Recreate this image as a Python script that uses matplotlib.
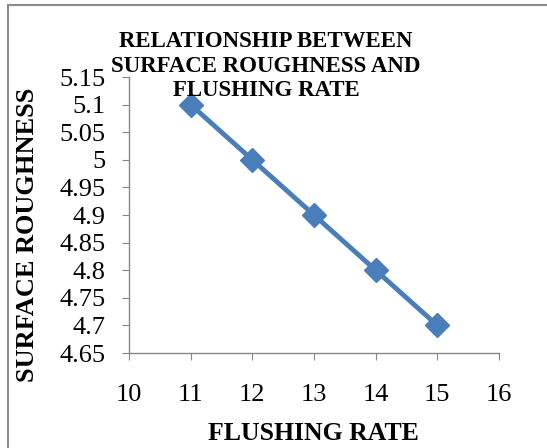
import matplotlib.pyplot as plt
from matplotlib.patches import Rectangle

flushing_rate = [11, 12, 13, 14, 15]
roughness = [5.1, 5.0, 4.9, 4.8, 4.7]
x_ticks = [10, 11, 12, 13, 14, 15, 16]
y_ticks = [4.65, 4.7, 4.75, 4.8, 4.85, 4.9, 4.95, 5.0, 5.05, 5.1, 5.15]

W, H = 547, 448
fig = plt.figure(figsize=(W / 100, H / 100), dpi=100)
ax = fig.add_axes([129 / W, 1 - 353 / H, (499 - 129) / W, (353 - 77) / H])

blue = '#4A7EBB'
ax.plot(flushing_rate, roughness, color=blue, linewidth=3.5,
        marker='D', markersize=12, markeredgecolor=blue, markerfacecolor=blue)

ax.set_xlim(10, 16)
ax.set_ylim(4.65, 5.15)
ax.set_xticks(x_ticks)
ax.set_yticks(y_ticks)
ax.set_yticklabels(['%g' % v for v in y_ticks])

for side in ['top', 'right']:
    ax.spines[side].set_visible(False)
for side in ['left', 'bottom']:
    ax.spines[side].set_color('#868686')
    ax.spines[side].set_linewidth(1.0)

for lab in ax.get_xticklabels() + ax.get_yticklabels():
    lab.set_fontfamily('Liberation Serif')
    lab.set_fontsize(19)
ax.tick_params(axis='y', direction='out', length=5, color='#868686', pad=12)
ax.tick_params(axis='x', direction='out', length=5, color='#868686', pad=17)

bold = {'family': 'Liberation Serif', 'weight': 'bold'}
fig.text(266 / W, 1 - 66 / H,
         'RELATIONSHIP BETWEEN\nSURFACE ROUGHNESS AND\nFLUSHING RATE',
         ha='center', va='center', fontsize=16.5, linespacing=1.2, **bold)
fig.text(28 / W, 1 - 235 / H, 'SURFACE ROUGHNESS', rotation=90,
         ha='center', va='center', fontsize=19, **bold)
fig.text(313 / W, 1 - 433 / H, 'FLUSHING RATE',
         ha='center', va='center', fontsize=18.5, **bold)

# outer chart frame, left and top edges visible
fig.patches.append(Rectangle((8 / W, -0.1), 1.2, 1 - 5 / H + 0.1,
                             transform=fig.transFigure, fill=False,
                             edgecolor='#8c8c8c', linewidth=1.5))

fig.savefig('out.png', dpi=100)
